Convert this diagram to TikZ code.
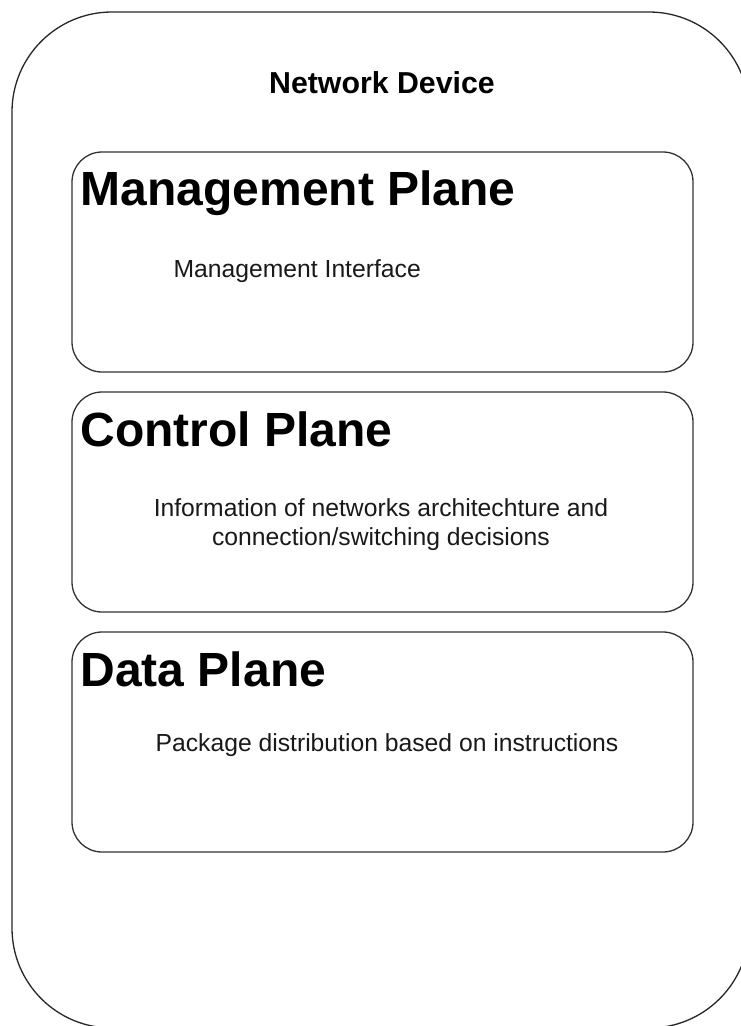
\documentclass[tikz,border=0pt]{standalone}
\usepackage{fontspec}
\setmainfont{Liberation Sans}
\begin{document}
\begin{tikzpicture}[x=1pt,y=-1pt,
  line width=1.3pt,
  device/.style={draw=black!85, rounded corners=100pt, minimum width=737pt, minimum height=1016pt, inner sep=0pt},
  plane/.style={draw=black!80, rounded corners=30pt, minimum width=621pt, minimum height=220pt, inner sep=0pt},
  devtitle/.style={font=\bfseries\fontsize{30.3}{36}\selectfont, inner sep=0pt, anchor=base},
  planetitle/.style={font=\bfseries\fontsize{48}{56}\selectfont, inner sep=0pt, anchor=base west},
  body/.style={font=\fontsize{24.7}{28.5}\selectfont, inner sep=0pt, text=black!90}
]
\useasboundingbox (0,0) rectangle (741,1026);

% outer device frame
\node[device] (dev) at (380.5,520) {};
\node[devtitle] (devlabel) at (382,93) {Network Device};

% the three planes
\node[plane] (mgmt) at (382.5,262) {};
\node[plane] (ctrl) at (382.5,502) {};
\node[plane] (data) at (382.5,742) {};

\node[planetitle] (mgmttitle) at (80,205) {Management Plane};
\node[planetitle] (ctrltitle) at (80,446) {Control Plane};
\node[planetitle] (datatitle) at (80,686) {Data Plane};

\node[body, anchor=base west] (mgmttext) at (173,277) {Management Interface};
% the base anchor of a two-line node sits on its last line
\node[body, anchor=base, align=center] (ctrltext) at (381,545)
  {Information of networks architechture and\\connection/switching decisions};
\node[body, anchor=base] (datatext) at (387,751.5) {Package distribution based on instructions};
\end{tikzpicture}
\end{document}
